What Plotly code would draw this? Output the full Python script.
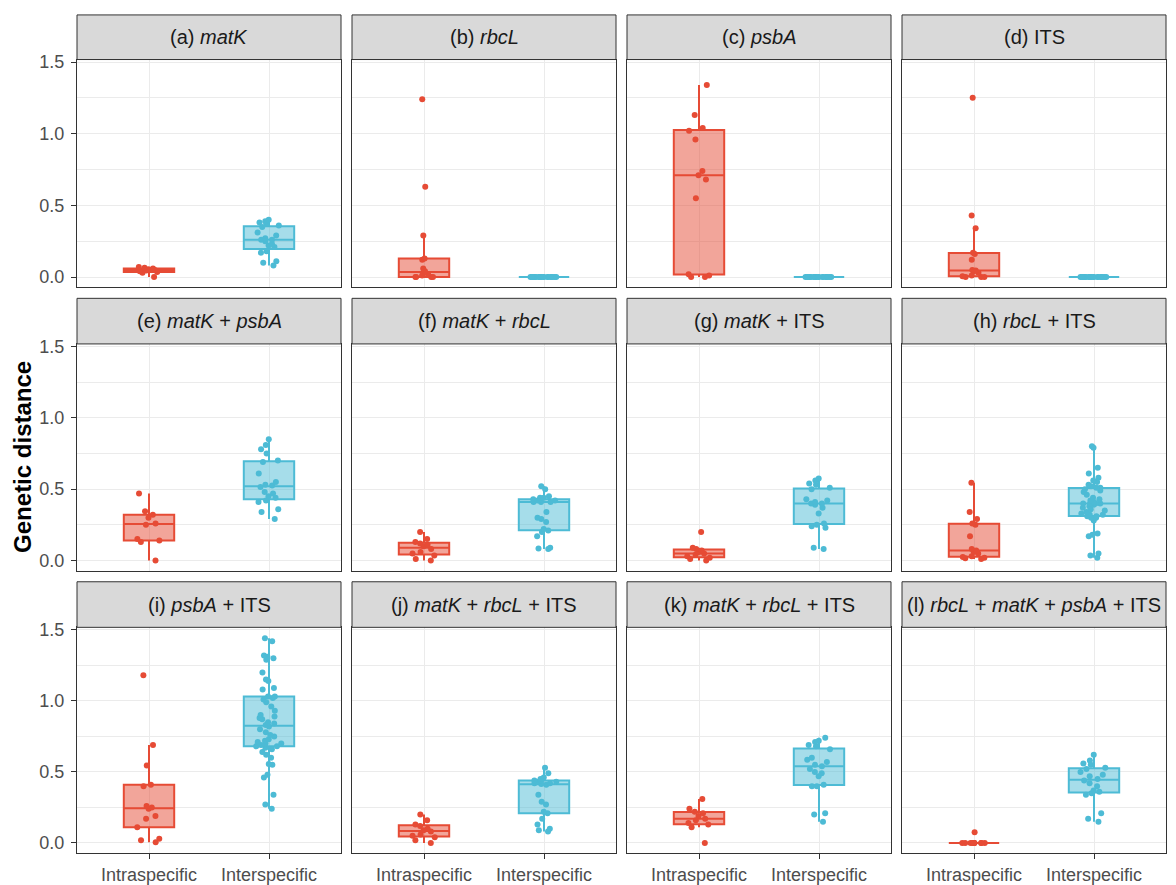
import plotly.graph_objects as go

W, H = 1176, 885

categories = ["Intraspecific", "Interspecific"]
panel_titles = [
    "(a) <i>matK</i>", "(b) <i>rbcL</i>", "(c) <i>psbA</i>", "(d) ITS",
    "(e) <i>matK</i> + <i>psbA</i>", "(f) <i>matK</i> + <i>rbcL</i>",
    "(g) <i>matK</i> + ITS", "(h) <i>rbcL</i> + ITS",
    "(i) <i>psbA</i> + ITS", "(j) <i>matK</i> + <i>rbcL</i> + ITS",
    "(k) <i>matK</i> + <i>rbcL</i> + ITS",
    "(l) <i>rbcL</i> + <i>matK</i> + <i>psbA</i> + ITS",
]

# ---- data (genetic distances) ----
intra_a = [0.0, 0.03, 0.035, 0.04, 0.045, 0.05, 0.055, 0.06, 0.065, 0.07]
inter_a = [0.08, 0.10, 0.11, 0.17, 0.18, 0.21, 0.22, 0.23, 0.25, 0.26, 0.26, 0.27,
           0.29, 0.31, 0.35, 0.36, 0.37, 0.38, 0.39, 0.40]
intra_b = [0.0, 0.0, 0.0, 0.0, 0.01, 0.02, 0.03, 0.04, 0.06, 0.12, 0.13, 0.29, 0.63, 1.24]
inter_b = [0.0, 0.0, 0.0, 0.0, 0.0, 0.0, 0.0, 0.0, 0.0, 0.0,
           0.0, 0.0, 0.0, 0.0, 0.0, 0.0, 0.0, 0.0, 0.0, 0.0]
intra_c = [0.0, 0.0, 0.01, 0.02, 0.55, 0.68, 0.71, 0.74, 0.96, 1.02, 1.04, 1.13, 1.34]
inter_c = [0.0, 0.0, 0.0, 0.0, 0.0, 0.0, 0.0, 0.0, 0.0, 0.0,
           0.0, 0.0, 0.0, 0.0, 0.0, 0.0, 0.0, 0.0, 0.0, 0.0]
intra_d = [0.0, 0.0, 0.0, 0.005, 0.01, 0.03, 0.04, 0.045, 0.05, 0.12, 0.16, 0.17,
           0.34, 0.43, 1.25]
inter_d = [0.0, 0.0, 0.0, 0.0, 0.0, 0.0, 0.0, 0.0, 0.0, 0.0,
           0.0, 0.0, 0.0, 0.0, 0.0, 0.0, 0.0, 0.0, 0.0, 0.0]
intra_e = [0.0, 0.13, 0.14, 0.15, 0.25, 0.26, 0.30, 0.32, 0.345, 0.47]
inter_e = [0.29, 0.34, 0.36, 0.41, 0.42, 0.44, 0.45, 0.47, 0.48, 0.515, 0.525, 0.53,
           0.55, 0.61, 0.69, 0.70, 0.75, 0.78, 0.81, 0.85]
intra_f = [0.0, 0.01, 0.035, 0.05, 0.06, 0.08, 0.10, 0.11, 0.12, 0.13, 0.15, 0.20]
inter_f = [0.08, 0.085, 0.09, 0.17, 0.20, 0.21, 0.22, 0.27, 0.29, 0.30, 0.34, 0.41,
           0.41, 0.41, 0.42, 0.42, 0.43, 0.43, 0.44, 0.44, 0.45, 0.50, 0.52]
intra_g = [0.0, 0.01, 0.02, 0.03, 0.04, 0.05, 0.06, 0.07, 0.08, 0.09, 0.20]
inter_g = [0.08, 0.09, 0.23, 0.24, 0.25, 0.26, 0.33, 0.37, 0.39, 0.40, 0.40, 0.41,
           0.42, 0.43, 0.50, 0.51, 0.53, 0.54, 0.56, 0.575]
intra_h = [0.01, 0.015, 0.02, 0.025, 0.03, 0.05, 0.06, 0.07, 0.08, 0.17, 0.25, 0.26,
           0.29, 0.34, 0.545]
inter_h = [0.02, 0.035, 0.05, 0.17, 0.18, 0.19, 0.28, 0.30, 0.30, 0.31, 0.31, 0.32,
           0.32, 0.33, 0.34, 0.35, 0.36, 0.37, 0.38, 0.39, 0.40, 0.40,
           0.40, 0.40, 0.41, 0.42, 0.43, 0.44, 0.46, 0.48, 0.49, 0.50, 0.51, 0.51,
           0.52, 0.53, 0.55, 0.56, 0.58, 0.61, 0.65, 0.79, 0.80]
intra_i = [0.005, 0.02, 0.03, 0.11, 0.17, 0.19, 0.24, 0.25, 0.26, 0.40, 0.41, 0.545,
           0.69, 1.18]
inter_i = [0.24, 0.27, 0.34, 0.46, 0.48, 0.55, 0.555, 0.60, 0.62, 0.64, 0.66, 0.67,
           0.68, 0.68, 0.69, 0.70, 0.70, 0.71, 0.72, 0.73, 0.75, 0.76, 0.78, 0.80,
           0.82, 0.83, 0.84, 0.85, 0.87, 0.88, 0.89, 0.90, 0.93, 0.96, 0.99, 1.01,
           1.02, 1.03, 1.03, 1.08, 1.09, 1.14, 1.15, 1.20, 1.29, 1.30, 1.31, 1.32,
           1.42, 1.44]
intra_j = [0.0, 0.02, 0.04, 0.05, 0.06, 0.08, 0.09, 0.10, 0.12, 0.13, 0.16, 0.20]
inter_j = [0.08, 0.09, 0.10, 0.13, 0.17, 0.21, 0.22, 0.27, 0.29, 0.34, 0.41, 0.415,
           0.42, 0.42, 0.43, 0.43, 0.44, 0.44, 0.45, 0.46, 0.49, 0.53]
intra_k = [0.0, 0.11, 0.13, 0.14, 0.16, 0.17, 0.19, 0.21, 0.22, 0.24, 0.31]
inter_k = [0.15, 0.20, 0.21, 0.40, 0.40, 0.41, 0.47, 0.49, 0.50, 0.52, 0.54, 0.55,
           0.57, 0.585, 0.60, 0.66, 0.68, 0.69, 0.71, 0.72, 0.74]
intra_l = [0.0, 0.0, 0.0, 0.0, 0.0, 0.0, 0.0, 0.0, 0.0, 0.0, 0.0, 0.0, 0.076]
inter_l = [0.15, 0.17, 0.21, 0.34, 0.35, 0.36, 0.37, 0.40, 0.42, 0.44, 0.45, 0.47,
           0.48, 0.50, 0.52, 0.53, 0.55, 0.56, 0.58, 0.62]

intra_all = [intra_a, intra_b, intra_c, intra_d, intra_e, intra_f,
             intra_g, intra_h, intra_i, intra_j, intra_k, intra_l]
inter_all = [inter_a, inter_b, inter_c, inter_d, inter_e, inter_f,
             inter_g, inter_h, inter_i, inter_j, inter_k, inter_l]

# ---- style ----
RED = "#E64B35"
BLUE = "#4DBBD5"
RED_FILL = "rgba(230,75,53,0.5)"
BLUE_FILL = "rgba(77,187,213,0.5)"
FONT = "Liberation Sans, Arial, sans-serif"
GRID = "#EBEBEB"
BORDER = "#333333"

# positions in window pixels
col_px = [(77, 341), (352, 616), (627, 891), (902, 1166)]
row_panel_px = [(53, 283), (340, 569), (626, 854)]
row_strip_px = [(8, 53), (294, 340), (580, 626)]


def px_x(v):
    return v / W


def px_y(v):
    return 1 - v / H


fig = go.Figure()
layout = dict(
    width=W, height=H,
    margin=dict(l=0, r=0, t=0, b=0),
    paper_bgcolor="white", plot_bgcolor="white",
    showlegend=False, boxmode="overlay",
    font=dict(family=FONT, size=18, color="#4D4D4D"),
)
shapes = []
annotations = []

for k in range(12):
    r, c = divmod(k, 4)
    n = k + 1
    xs = "" if n == 1 else str(n)
    x0, x1 = col_px[c]
    y0, y1 = row_panel_px[r]
    s0, s1 = row_strip_px[r]

    for cat, vals, col, fill in [(categories[0], intra_all[k], RED, RED_FILL),
                                 (categories[1], inter_all[k], BLUE, BLUE_FILL)]:
        fig.add_trace(go.Box(
            x=[cat] * len(vals), y=vals,
            xaxis="x" + xs, yaxis="y" + xs,
            boxpoints="all", jitter=0.55, pointpos=0,
            width=0.42, whiskerwidth=0,
            quartilemethod="linear",
            line=dict(color=col, width=2),
            fillcolor=fill,
            marker=dict(color=col, size=6, line=dict(width=0)),
            showlegend=False, hoverinfo="y",
        ))

    layout["xaxis" + xs] = dict(
        domain=[px_x(x0), px_x(x1)], anchor="y" + xs,
        type="category", categoryorder="array", categoryarray=categories,
        range=[-0.6, 1.6],
        showgrid=True, gridcolor=GRID, gridwidth=1.2, zeroline=False,
        showline=True, mirror=True, linecolor=BORDER, linewidth=1,
        ticks="outside" if r == 2 else "", ticklen=5, tickcolor=BORDER,
        showticklabels=(r == 2),
        tickfont=dict(family=FONT, size=18, color="#4D4D4D"),
        fixedrange=True,
    )
    layout["yaxis" + xs] = dict(
        domain=[px_y(y1), px_y(y0)], anchor="x" + xs,
        range=[-0.0725, 1.5175],
        tickmode="linear", tick0=0, dtick=0.5, tickformat=".1f",
        showgrid=True, gridcolor=GRID, gridwidth=1.2, zeroline=False,
        minor=dict(tickmode="linear", tick0=0, dtick=0.25, showgrid=True,
                   gridcolor=GRID, gridwidth=0.8, ticks=""),
        showline=True, mirror=True, linecolor=BORDER, linewidth=1,
        ticks="outside" if c == 0 else "", ticklen=5, tickcolor=BORDER,
        showticklabels=(c == 0), ticklabelstandoff=3,
        tickfont=dict(family=FONT, size=18, color="#4D4D4D"),
        fixedrange=True,
    )

    # facet strip
    shapes.append(dict(
        type="rect", xref="paper", yref="paper",
        x0=px_x(x0), x1=px_x(x1), y0=px_y(s1), y1=px_y(s0),
        fillcolor="#D9D9D9", line=dict(color=BORDER, width=1), layer="above",
    ))
    annotations.append(dict(
        text=panel_titles[k], xref="paper", yref="paper",
        x=px_x((x0 + x1) / 2), y=px_y((s0 + s1) / 2),
        xanchor="center", yanchor="middle", showarrow=False,
        font=dict(family=FONT, size=20, color="#1A1A1A"),
    ))

annotations.append(dict(
    text="<b>Genetic distance</b>", xref="paper", yref="paper",
    x=px_x(23), y=px_y(454), xanchor="center", yanchor="middle",
    textangle=-90, showarrow=False,
    font=dict(family=FONT, size=24, color="#000000"),
))

layout["shapes"] = shapes
layout["annotations"] = annotations
fig.update_layout(**layout)

# remove the default page margin so the 1176x885 figure fills the window exactly
fig.write_html(
    "out.html",
    config={"displayModeBar": False, "staticPlot": False},
    post_script=(
        "document.body.style.margin='0';"
        "document.body.style.overflow='hidden';"
        "document.documentElement.style.overflow='hidden';"
    ),
)
